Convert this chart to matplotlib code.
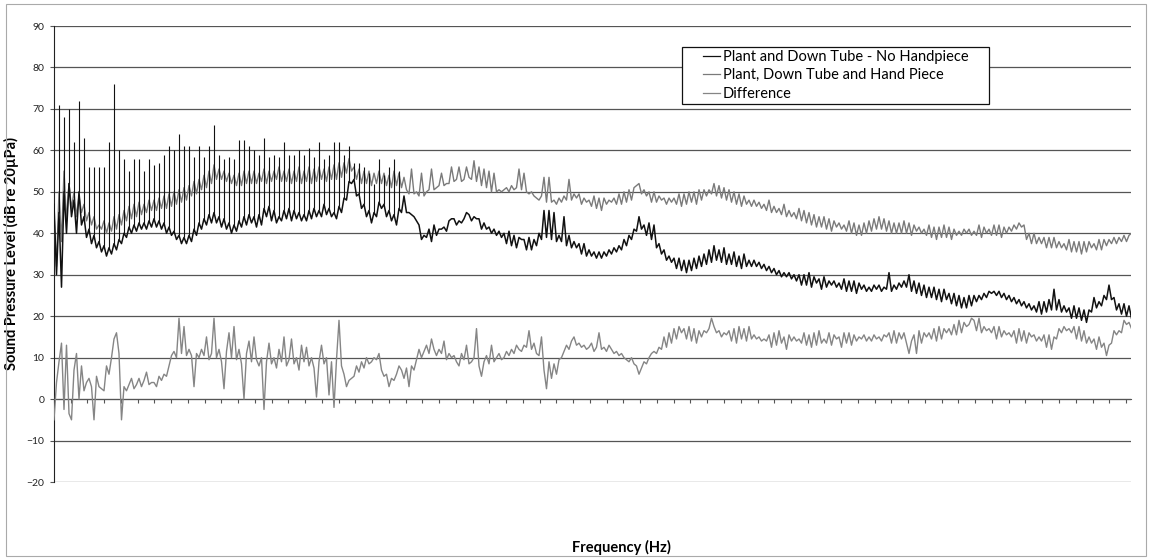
import matplotlib
matplotlib.use("Agg")
import matplotlib.pyplot as plt
from matplotlib.patches import Rectangle
import numpy as np

# Narrowband spectra, one value per frequency bin (dB re 20 uPa)
no_handpiece = [
    47, 30, 45, 27, 50, 40, 52, 44, 48, 40, 50, 42, 44, 39, 41, 37.5, 39.5, 36.5, 38, 35.5,
    37, 34.5, 36.5, 35, 37.5, 36, 38.5, 37.5, 40, 39, 41.5, 40, 42, 40.5, 42.5, 41, 42.5, 41, 43, 41.5,
    43.5, 41.5, 43, 41, 42.5, 40, 41.5, 39.5, 40.5, 38.5, 39.5, 37.5, 39, 37.5, 39.5, 38, 41, 39.5, 42.5, 41,
    43.5, 42, 44.5, 42.5, 45, 42.5, 44, 41.5, 43.5, 41, 42.5, 40, 42, 40.5, 43, 41.5, 44, 42, 44.5, 42.5,
    44, 41.5, 44.5, 42, 46, 44, 46.5, 43, 45.5, 42.5, 44, 43, 45.5, 43.5, 46, 43, 45.5, 43.5, 45, 43,
    44.5, 43, 45.5, 43.5, 46, 44, 45.5, 44, 47, 44.5, 46, 44, 45, 43.5, 46.5, 45, 48.5, 48, 52.5, 52,
    53, 49, 49.5, 46, 47, 44, 45.5, 42.5, 45, 44, 47.5, 46, 47, 44, 45.5, 43, 44.5, 42, 46, 45,
    49, 45, 45, 44.5, 44, 43, 42, 38.5, 39.5, 39, 41, 38, 42, 39.5, 41, 41, 41.5, 40.5, 43, 43.5,
    43.5, 42, 43, 42.5, 43.5, 45, 44.5, 43, 44, 43.5, 43.5, 41, 42.5, 41, 41.5, 40, 41, 39.5, 40.5, 39,
    40, 37.5, 40.5, 37, 39.5, 36.5, 39, 38.5, 38.5, 36, 39, 36, 38.5, 37, 40, 38.5, 45.5, 39, 45.5, 38.5,
    45, 38, 39.5, 38, 44, 37, 39.5, 36.5, 38, 36.5, 37.5, 35, 37.5, 34.5, 36, 34.5, 35.5, 34, 35.5, 34,
    35.5, 34.5, 36, 35, 36.5, 35.5, 37, 36, 38.5, 37, 39.5, 38.5, 41, 40.5, 44, 41, 42, 39.5, 42.5, 38.5,
    42, 36.5, 37.5, 35, 36, 33.5, 34.5, 33, 34, 31.5, 34, 31, 33.5, 30.5, 33.5, 31, 34, 31.5, 34.5, 32,
    35, 32.5, 36, 33, 37, 33.5, 36, 33, 36.5, 32.5, 35, 32.5, 35.5, 32, 34.5, 31.5, 35, 32, 33.5, 32,
    33.5, 32, 33, 31.5, 32.5, 31, 32, 30.5, 31.5, 30, 31, 29.5, 30.5, 29.5, 30.5, 29, 30, 28.5, 30, 27.5,
    30, 27.5, 30.5, 27, 29.5, 28, 29, 26.5, 29.5, 27, 28.5, 27.5, 28.5, 27, 28, 26.5, 29, 26, 28.5, 26,
    28.5, 25.5, 28, 26.5, 27.5, 26, 27, 26, 27.5, 26.5, 27.5, 26, 27, 26.5, 30.5, 26, 27.5, 26.5, 28, 27,
    28.5, 27, 30, 26, 28.5, 25.5, 28, 25, 27.5, 24.5, 27, 24.5, 27, 24, 26.5, 23.5, 26.5, 24, 25.5, 23,
    25.5, 22.5, 25, 22, 24.5, 22, 25, 22.5, 25, 23.5, 25, 24, 25.5, 24.5, 26, 25.5, 26, 25, 26, 24.5,
    25.5, 24, 25, 23.5, 24.5, 23, 24, 22.5, 23.5, 22, 23, 21.5, 22.5, 21, 23.5, 20.5, 23.5, 21, 24, 21.5,
    26.5, 21.5, 24, 21, 22.5, 21, 22, 19.5, 22.5, 19.5, 22, 19, 21.5, 18.5, 21.5, 21, 24.5, 22, 23.5, 22.5,
    25, 24, 27.5, 24, 24.5, 21.5, 23, 20.5, 23, 20, 22.5, 19.5,
]

# harmonic tones of the plant, every second bin at the low end
tonal_bins = list(range(2, 140, 2))
tonal_levels = [
    71, 68, 70, 62, 72, 63, 56, 56, 56,
    56, 62, 76, 60, 58, 55, 58, 58, 55, 58,
    56.5, 57, 59, 61, 60, 64, 61, 61, 58.5, 61,
    58.5, 61, 66, 59, 58, 58.5, 58, 62.5, 62.5, 61,
    60, 59, 63, 58.5, 59, 58.5, 62, 59, 59, 60,
    59, 60.5, 58.5, 62, 58, 59, 62, 62, 59, 61,
    57, 57, 56, 54.5, 52, 58, 54, 56, 58, 55,
]

with_handpiece = [
    45, 32, 50, 38, 55, 43, 52, 46, 50, 44, 49, 45, 47, 43, 45, 42, 44, 41, 42, 41,
    43, 40, 42.5, 40.5, 44, 41, 44.5, 42, 45.5, 43, 46.5, 43.5, 47, 44, 47.5, 44.5, 47, 45, 48, 45.5,
    48, 45.5, 48.5, 46, 49, 46, 49.5, 46.5, 50, 47, 50.5, 47.5, 51, 48, 51.5, 49, 52.5, 49.5, 53, 50.5,
    54, 51, 55, 52, 56.5, 53, 55.5, 53, 55, 52.5, 54.5, 52, 54, 51.5, 54.5, 51.5, 55, 52, 55, 52,
    55, 52, 54.5, 52.5, 55.5, 52, 55, 52.5, 55, 53, 56, 52.5, 55, 52.5, 55.5, 52, 55, 52.5, 56, 52,
    55, 52.5, 56, 52, 55.5, 52.5, 56, 53, 55.5, 52.5, 56, 53, 56.5, 53, 57, 53.5, 57, 54.5, 58, 55,
    56, 53, 55.5, 52, 55, 52, 55, 51.5, 54.5, 52, 55, 52, 54.5, 51.5, 54, 51, 55, 51.5, 54.5, 51,
    53.5, 50.5, 49.5, 55.5, 49.5, 50, 49, 54.5, 49, 50, 50.5, 55.5, 50.5, 51, 51.5, 54.5, 51.5, 52, 52, 56,
    52.5, 53, 56, 52.5, 53, 56, 53.5, 53, 57.5, 52.5, 56, 51.5, 55.5, 51, 55, 50, 54.5, 50, 50.5, 50,
    50.5, 51, 50, 51.5, 50.5, 51, 55.5, 50.5, 54.5, 50, 49.5, 50, 49, 48.5, 48, 49, 53.5, 47.5, 53.5, 47.5,
    48, 47, 48.5, 47.5, 49, 48, 53, 48, 49.5, 48.5, 49.5, 47, 48.5, 47.5, 48, 46.5, 49, 46, 48.5, 45.5,
    48.5, 47, 48, 47.5, 48.5, 47, 49.5, 47, 50, 47.5, 50.5, 48, 51, 51.5, 52, 49.5, 50.5, 49, 50, 47.5,
    50, 47.5, 49, 48, 48.5, 47, 48.5, 47.5, 48.5, 47, 49.5, 46.5, 49.5, 47, 50, 47.5, 50, 47, 50.5, 48,
    50.5, 49, 50.5, 49.5, 52, 49, 51.5, 48.5, 51, 48, 50.5, 47.5, 50, 47, 49.5, 46.5, 49, 47, 48, 46.5,
    48, 46.5, 47.5, 46, 47, 45.5, 48, 45, 46.5, 45, 46, 44.5, 47, 44, 45.5, 44, 45, 43.5, 46, 43,
    45.5, 42.5, 45, 42, 44.5, 41.5, 44, 41.5, 44, 41, 43.5, 40.5, 43, 41.5, 42.5, 41, 42, 40.5, 43, 40,
    42.5, 39.5, 42, 39.5, 42.5, 40, 43, 40.5, 43.5, 41, 44, 41, 43.5, 40.5, 43, 40, 42.5, 40, 42.5, 40,
    43, 40, 42.5, 39.5, 42, 40.5, 41.5, 40, 41, 39.5, 42, 39, 41.5, 38.5, 41.5, 39, 42, 39, 41.5, 38.5,
    41, 39.5, 40.5, 39.5, 41, 40, 41, 39.5, 40.5, 39.5, 42, 39, 41.5, 40, 41, 39.5, 42, 39.5, 42, 39,
    41.5, 40, 41.5, 40.5, 42, 41, 42.5, 41.5, 42, 38.5, 40, 37.5, 40, 37.5, 39, 37.5, 39, 36.5, 39, 36.5,
    39, 36.5, 38, 36.5, 37.5, 36, 38.5, 35.5, 38, 35.5, 38, 35, 38, 35.5, 38, 36.5, 37.5, 36, 38.5, 36,
    38.5, 37, 38.5, 37.5, 39, 37.5, 39, 38, 39.5, 38, 39.5, 40,
]

difference = [
    -5, 4, 9, 13.5, -2.5, 13, -3.5, -5, 7, 11, 0, 8, 2, 4, 5, 3, -5, 5.5, 3, 2.5,
    2, 8, 6, 10, 14.5, 16, 11, -5, 3, 2, 3.5, 5, 2.5, 3.5, 5, 3, 4.5, 6.5, 3.5, 4,
    4, 3, 5.5, 4.5, 6, 5.5, 8, 10.5, 11.5, 10, 19.5, 11, 17.5, 10.5, 12, 10.5, 3, 11, 10, 12,
    10.5, 15, 9.5, 11, 19.5, 10, 12, 9, 2.5, 11.5, 16, 10, 17.5, 9.5, 12, 8.5, 0, 11, 14, 9,
    15, 9.5, 8, 10, -2.5, 9, 13.5, 8.5, 10, 7.5, 12, 9, 15, 8, 9.5, 14.5, 8.5, 10, 7, 13,
    9, 12.5, 8, 10, 7.5, 0.5, 9, 13, 8.5, 10, 1, 9, -2, 9.5, 19, 8, 6, 3, 4.5, 5,
    5.5, 8, 6.5, 9, 7.5, 10, 8.5, 9, 10, 9.5, 11, 7, 5.5, 6, 3, 5, 4.5, 6, 8, 7,
    5, 7.5, 3, 8, 7, 9.5, 12, 10, 11.5, 13, 11, 14.5, 12, 10.5, 12, 11, 14, 9.5, 11, 10,
    10.5, 9, 8, 11, 9.5, 13, 8.5, 9, 10, 17, 8, 5.5, 9, 10.5, 8.5, 13, 9, 10, 11, 9.5,
    10, 11.5, 10.5, 12, 11, 13, 12, 11.5, 13, 12.5, 16.5, 12, 13.5, 11, 10.5, 15, 7, 2.5, 9, 5,
    8.5, 6, 9.5, 10, 11.5, 13, 12, 14, 15, 13, 13.5, 12.5, 13, 12, 12.5, 13.5, 11.5, 12.5, 16, 12,
    12.5, 11.5, 13, 12, 11, 11.5, 10.5, 11, 10, 9.5, 9, 10, 8.5, 8, 6, 7.5, 9, 8.5, 10, 11,
    11.5, 11, 12.5, 12, 15, 12.5, 16, 13.5, 17, 14.5, 17.5, 16, 17, 14.5, 17.5, 14, 17, 13.5, 16.5, 15,
    16.5, 16, 17, 19.5, 17.5, 16, 16.5, 15, 16, 15.5, 16.5, 14, 17, 13.5, 17.5, 14.5, 17, 14, 17.5, 14.5,
    15.5, 14.5, 15, 14, 14.5, 14, 15.5, 12.5, 16, 13, 16.5, 13.5, 15, 12, 15.5, 14, 15, 14, 14.5, 13.5,
    16, 13, 15.5, 12.5, 16, 13, 16.5, 13.5, 14.5, 13.5, 16, 13, 15.5, 14.5, 15, 12.5, 16, 13.5, 16, 13,
    15.5, 14, 15, 14.5, 15.5, 14, 15, 14, 15.5, 14.5, 15, 14, 15.5, 15, 16, 13.5, 16.5, 13.5, 16, 14.5,
    16, 13.5, 11, 14, 15.5, 11, 16.5, 13.5, 16, 15, 16, 14.5, 17, 14, 17.5, 14.5, 17, 16, 17, 15.5,
    18, 15.5, 19, 16, 18.5, 17.5, 18, 19.5, 19, 16.5, 19.5, 16, 17.5, 16.5, 17, 16, 17.5, 14.5, 17.5, 15,
    16.5, 15.5, 16, 15, 16.5, 13.5, 17, 14, 16.5, 13.5, 16, 15, 15.5, 14, 15, 14, 15.5, 12.5, 15.5, 12,
    15, 14.5, 17, 16, 17.5, 16.5, 17, 16, 17.5, 14.5, 17.5, 14, 16.5, 13.5, 15, 13.5, 14.5, 12, 15, 12.5,
    13.5, 10.5, 13, 13.5, 16.5, 15.5, 16.5, 16, 19, 18, 18.5, 17,
]

series_names = [
    "Plant and Down Tube - No Handpiece",
    "Plant, Down Tube and Hand Piece",
    "Difference",
]
series_colors = ["#111111", "#7a7a7a", "#858585"]

plt.rcParams["font.family"] = ["Lato", "DejaVu Sans"]

W, H = 1150, 559
fig = plt.figure(figsize=(W / 100, H / 100), dpi=100)
ax = fig.add_axes([54 / W, 1 - 482 / H, 1077 / W, 456 / H])

bins_a = np.arange(len(no_handpiece))
bins_b = np.arange(len(with_handpiece))
bins_c = np.arange(len(difference))

l2, = ax.plot(bins_b, with_handpiece, color=series_colors[1], lw=1.0, zorder=3)
l3, = ax.plot(bins_c, difference, color=series_colors[2], lw=1.0, zorder=3)
l1, = ax.plot(bins_a, no_handpiece, color=series_colors[0], lw=1.1, zorder=4)
# tonal peaks rise straight up from the broadband level
ax.vlines(tonal_bins, np.array(no_handpiece)[tonal_bins], tonal_levels,
          color=series_colors[0], lw=0.8, zorder=4)

ax.set_xlim(0, 430.8)
ax.set_ylim(-20, 90)
ax.set_yticks(np.arange(-20, 91, 10))
ax.yaxis.grid(True, color="#555555", lw=0.9)
ax.set_axisbelow(True)

# category axis sits on the 0 dB line, ticks only
ax.spines["bottom"].set_position(("data", 0))
ax.spines["bottom"].set_color("#555555")
ax.spines["top"].set_visible(False)
ax.spines["right"].set_visible(False)
ax.spines["left"].set_color("#222222")
ax.set_xticks(np.arange(0, 430, 6.7))
ax.set_xticklabels([])
ax.tick_params(axis="x", direction="out", length=3, color="#555555")
ax.tick_params(axis="y", direction="out", length=3, color="#555555",
               labelsize=7.5, labelcolor="#222222", pad=4)

ax.set_ylabel("Sound Pressure Level (dB re 20µPa)", fontsize=10.5,
              fontweight="bold")
ax.yaxis.set_label_coords((19 - 54) / 1077, 0.5)
fig.text(621 / W, 1 - 547 / H, "Frequency (Hz)", fontsize=10.5,
         fontweight="bold", ha="center", va="center")

leg = ax.legend([l1, l2, l3], series_names, loc="upper left",
                bbox_to_anchor=((703 - 54) / 1077, (482 - 50) / 456),
                borderaxespad=0, borderpad=0, frameon=False,
                fontsize=10.5, handlelength=1.15, handletextpad=0.2,
                labelspacing=0.3)
for line in leg.get_lines():
    line.set_linewidth(0.9)

# box round the legend, wider at the sides than top and bottom
fig.canvas.draw()
bb = leg.get_window_extent().transformed(fig.transFigure.inverted())
padx, pady = 21 / W, 3 / H
ax.add_artist(Rectangle((bb.x0 - padx, bb.y0 - pady), bb.width + 2 * padx,
                        bb.height + 2 * pady, transform=fig.transFigure,
                        facecolor="white", edgecolor="#111111", lw=0.9,
                        zorder=5))
leg.set_zorder(6)

# light frame round the whole chart
fig.patches.append(Rectangle((6 / W, 3 / H), 1140 / W, 552 / H,
                             transform=fig.transFigure, fill=False,
                             edgecolor="#aaaaaa", lw=0.8))

fig.savefig("out.png", dpi=100)
